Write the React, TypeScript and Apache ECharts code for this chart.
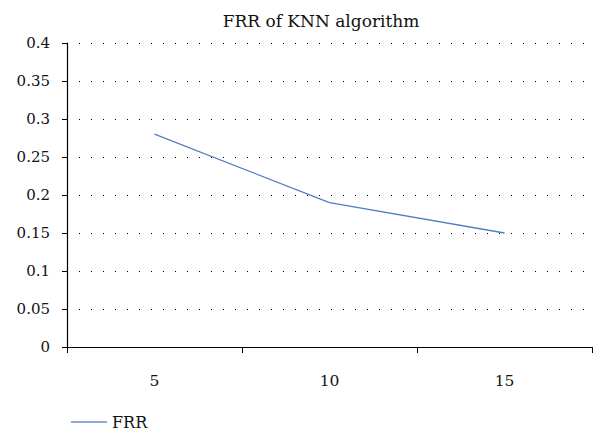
import React, { useEffect, useRef } from "react";
import * as echarts from "echarts";

const categories = ["5", "10", "15"];
const frrValues = [0.28, 0.19, 0.15];
const yTicks = { min: 0, max: 0.4, interval: 0.05 };

const FONT = "DejaVu Serif";

export default function App() {
  const ref = useRef<HTMLDivElement>(null);
  useEffect(() => {
    document.body.style.margin = "0";
    const chart = echarts.init(ref.current!, null, { renderer: "svg" });
    chart.setOption({
      animation: false,
      backgroundColor: "#ffffff",
      textStyle: { fontFamily: FONT },
      title: {
        text: "FRR of KNN algorithm",
        left: 316,
        top: 7,
        textAlign: "center",
        textStyle: { fontFamily: FONT, fontSize: 17, fontWeight: "normal", color: "#111" },
      },
      legend: {
        left: 66,
        top: 409,
        icon: "rect",
        itemWidth: 36,
        itemHeight: 1.5,
        itemGap: 10,
        textStyle: { fontFamily: FONT, fontSize: 16, color: "#111" },
        data: [{ name: "FRR", itemStyle: { color: "#6a91c8" } }],
      },
      grid: { left: 67, right: 1, top: 43, bottom: 84, containLabel: false },
      xAxis: {
        type: "category",
        data: categories,
        boundaryGap: true,
        axisLine: { lineStyle: { color: "#000", width: 1.2 } },
        axisTick: { show: true, length: 6, lineStyle: { color: "#000" }, alignWithLabel: false },
        axisLabel: { margin: 26, fontFamily: FONT, fontSize: 15.5, color: "#111" },
        splitLine: { show: false },
      },
      yAxis: {
        type: "value",
        min: yTicks.min,
        max: yTicks.max,
        interval: yTicks.interval,
        axisLine: { show: true, lineStyle: { color: "#000", width: 1.2 } },
        axisTick: { show: true, length: 5, lineStyle: { color: "#000" } },
        axisLabel: {
          margin: 17,
          fontFamily: FONT,
          fontSize: 15,
          color: "#111",
          formatter: (v: number) => String(parseFloat(v.toFixed(2))),
        },
        splitLine: {
          show: true,
          lineStyle: { color: "#000", width: 1, type: [1, 11], dashOffset: -12 },
        },
      },
      series: [
        {
          name: "FRR",
          type: "line",
          data: frrValues,
          symbol: "none",
          lineStyle: { color: "#4f7fc0", width: 1.3 },
          itemStyle: { color: "#4f7fc0" },
        },
      ],
    });
    return () => chart.dispose();
  }, []);
  return <div ref={ref} style={{ width: 593, height: 431 }} />;
}
